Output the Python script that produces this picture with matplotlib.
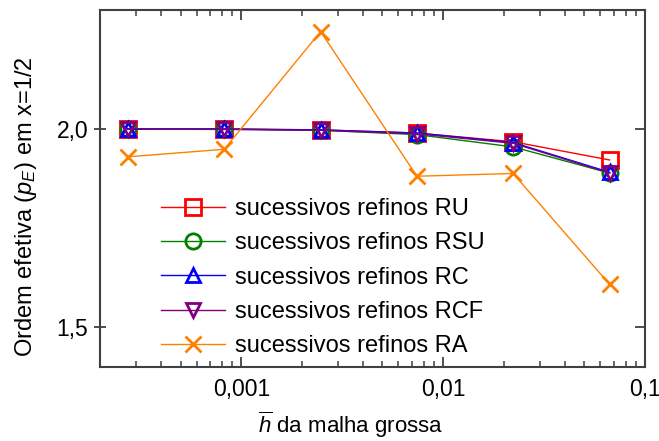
import matplotlib
matplotlib.use("Agg")
import matplotlib.pyplot as plt
from matplotlib.ticker import FixedLocator, LogLocator, NullFormatter, FuncFormatter

plt.rcParams['font.family'] = ['Liberation Sans', 'DejaVu Sans']
plt.rcParams['mathtext.fontset'] = 'custom'
plt.rcParams['mathtext.rm'] = 'Liberation Sans'
plt.rcParams['mathtext.it'] = 'Liberation Sans:italic'

h = [0.000274, 0.000823, 0.00247, 0.00741, 0.0222, 0.0667]
ru = [2.000, 2.000, 1.998, 1.990, 1.968, 1.922]
rsu = [2.000, 2.000, 1.997, 1.986, 1.955, 1.889]
rc = [2.000, 2.000, 1.998, 1.990, 1.966, 1.891]
rcf = [2.000, 1.999, 1.997, 1.988, 1.964, 1.889]
ra = [1.930, 1.949, 2.246, 1.881, 1.888, 1.608]

labels = ['sucessivos refinos RU', 'sucessivos refinos RSU', 'sucessivos refinos RC',
          'sucessivos refinos RCF', 'sucessivos refinos RA']
colors = ['#ff0000', '#008000', '#0000ff', '#800080', '#ff8000']
markers = ['s', 'o', '^', 'v', 'x']
series = [ru, rsu, rc, rcf, ra]

fig = plt.figure(figsize=(6.59, 4.41), dpi=100)
ax = fig.add_axes([0.152, 0.168, 0.827, 0.809])

for y, lab, c, m in zip(series, labels, colors, markers):
    ms = 11 if m in ('s', 'o', 'x') else 10
    ax.plot(h, y, color=c, lw=1.0, marker=m, ms=ms, mew=2.0,
            mfc='none', mec=c, label=lab)

ax.set_xscale('log')
ax.set_xlim(2e-4, 0.1)
ax.set_ylim(1.4, 2.3)

ax.xaxis.set_major_locator(FixedLocator([0.001, 0.01, 0.1]))
ax.xaxis.set_major_formatter(FuncFormatter(lambda v, p: {0.001: '0,001', 0.01: '0,01', 0.1: '0,1'}.get(round(v, 4), '')))
ax.xaxis.set_minor_locator(LogLocator(base=10, subs=range(2, 10)))
ax.xaxis.set_minor_formatter(NullFormatter())
ax.yaxis.set_major_locator(FixedLocator([1.5, 2.0]))
ax.yaxis.set_major_formatter(FuncFormatter(lambda v, p: f'{v:.1f}'.replace('.', ',')))

spine_c = '#404040'
for s in ax.spines.values():
    s.set_color(spine_c)
    s.set_linewidth(1.5)

ax.tick_params(axis='x', which='major', direction='in', length=7, width=1.3,
               top=True, bottom=True, colors=spine_c, labelcolor='black', labelsize=16.5, pad=8)
ax.tick_params(axis='x', which='minor', direction='in', length=4.5, width=1.1,
               top=True, bottom=True, colors=spine_c)
ax.tick_params(axis='y', which='major', direction='inout', length=9, width=1.3,
               left=True, right=False, colors=spine_c, labelcolor='black', labelsize=16.5, pad=4)
ax2 = ax.secondary_yaxis('right')
ax2.yaxis.set_major_locator(FixedLocator([1.5, 2.0]))
ax2.tick_params(axis='y', direction='in', length=7, width=1.3, colors=spine_c, labelright=False)
ax2.spines['right'].set_visible(False)

ax.set_xlabel(r'$\overline{h}$ da malha grossa', fontsize=16)
ax.xaxis.set_label_coords(0.46, -0.12)
ax.set_ylabel(r'Ordem efetiva ($p_E$) em x=1/2', fontsize=17)
ax.yaxis.set_label_coords(-0.112, 0.448)

leg = ax.legend(loc='upper left', bbox_to_anchor=(0.095, 0.50), frameon=False,
                fontsize=17, handlelength=2.7, handletextpad=0.4, labelspacing=0.52,
                borderaxespad=0.0)

fig.savefig('out.png', dpi=100)
